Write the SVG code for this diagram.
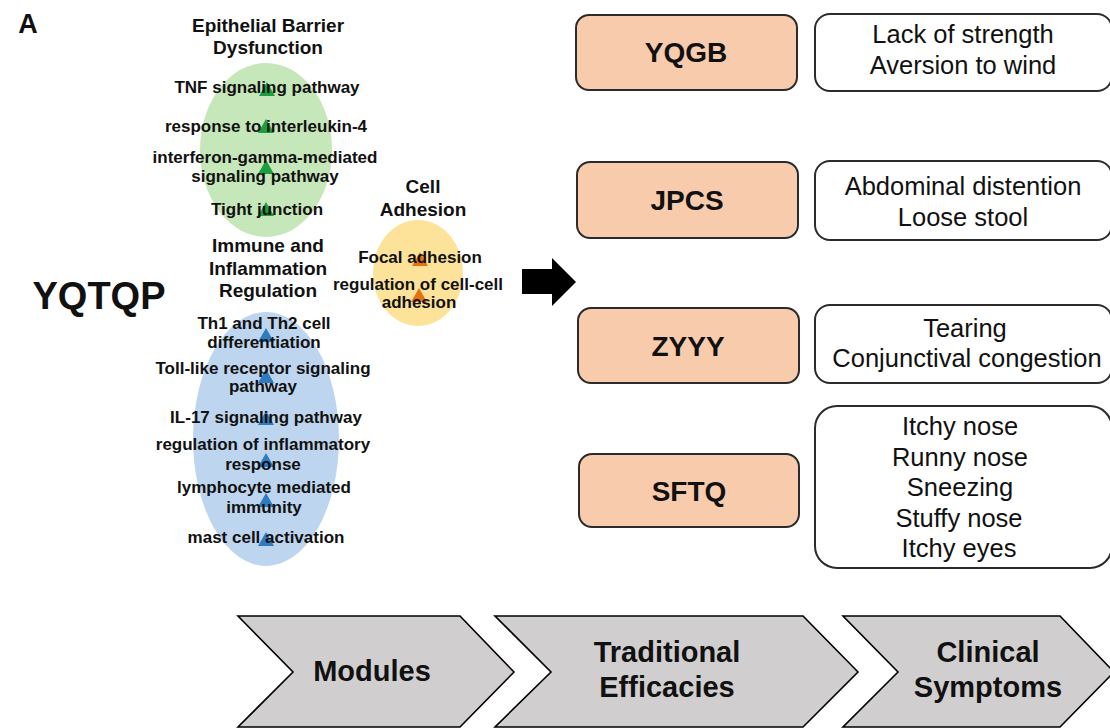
<svg xmlns="http://www.w3.org/2000/svg" xmlns:xlink="http://www.w3.org/1999/xlink" width="1110" height="728" viewBox="0 0 1110 728">
<defs>
<style>
.t{font-family:"Liberation Sans",Arial,sans-serif;fill:#111;text-anchor:middle}
.b{font-weight:bold}
.item{font-size:17px;font-weight:bold}
.ttl{font-size:19px;font-weight:bold}
.mod{font-size:28px;font-weight:bold}
.sym{font-size:25.5px}
.chev{font-size:29px;font-weight:bold}
.eff{fill:#f8cbad;stroke:#2b2b2b;stroke-width:2}
.sbox{fill:#fff;stroke:#2b2b2b;stroke-width:2}
.cv{fill:#d0cece;stroke:#000;stroke-width:1.6;stroke-linejoin:miter}
</style>
<path id="tri" d="M0,-7 L8,7 L-8,7 Z"/>
</defs>
<rect width="1110" height="728" fill="#fff"/>
<text class="t b" x="28" y="33" font-size="27">A</text>
<g id="yqtqp"><text class="t b" x="99" y="309" font-size="38">YQTQP</text></g>

<g id="module-epithelial">
<ellipse cx="266" cy="150" rx="66" ry="87" fill="#c6e7b9"/>
<text class="t ttl" x="268" y="32">Epithelial Barrier</text>
<text class="t ttl" x="268" y="54">Dysfunction</text>
<g fill="#1b9e3e">
<use xlink:href="#tri" x="267" y="89"/>
<use xlink:href="#tri" x="266" y="126"/>
<use xlink:href="#tri" x="266" y="167"/>
<use xlink:href="#tri" x="266" y="209"/>
</g>
<text class="t item" x="267" y="93">TNF signaling pathway</text>
<text class="t item" x="266" y="132">response to interleukin-4</text>
<text class="t item" x="265" y="163">interferon-gamma-mediated</text>
<text class="t item" x="265" y="182">signaling pathway</text>
<text class="t item" x="267" y="215">Tight junction</text>
</g>

<g id="module-adhesion">
<ellipse cx="418" cy="273" rx="45" ry="53" fill="#fde39a"/>
<text class="t ttl" x="423" y="193">Cell</text>
<text class="t ttl" x="423" y="216">Adhesion</text>
<g fill="#e8710f">
<use xlink:href="#tri" x="420" y="259"/>
<use xlink:href="#tri" x="419" y="295"/>
</g>
<text class="t item" x="420" y="263">Focal adhesion</text>
<text class="t item" x="418" y="290">regulation of cell-cell</text>
<text class="t item" x="419" y="308">adhesion</text>
</g>

<g id="module-immune">
<ellipse cx="266" cy="439" rx="73" ry="127" fill="#bdd5ee"/>
<text class="t ttl" x="268" y="252">Immune and</text>
<text class="t ttl" x="268" y="275">Inflammation</text>
<text class="t ttl" x="268" y="297">Regulation</text>
<g fill="#2f7bc0">
<use xlink:href="#tri" x="266" y="335"/>
<use xlink:href="#tri" x="266" y="376"/>
<use xlink:href="#tri" x="266" y="418"/>
<use xlink:href="#tri" x="266" y="460"/>
<use xlink:href="#tri" x="266" y="500"/>
<use xlink:href="#tri" x="266" y="539"/>
</g>
<text class="t item" x="264" y="329">Th1 and Th2 cell</text>
<text class="t item" x="264" y="348">differentiation</text>
<text class="t item" x="263" y="374">Toll-like receptor signaling</text>
<text class="t item" x="263" y="392">pathway</text>
<text class="t item" x="266" y="423">IL-17 signaling pathway</text>
<text class="t item" x="263" y="450">regulation of inflammatory</text>
<text class="t item" x="263" y="470">response</text>
<text class="t item" x="264" y="493">lymphocyte mediated</text>
<text class="t item" x="264" y="513">immunity</text>
<text class="t item" x="266" y="543">mast cell activation</text>
</g>

<g id="connectors">
<polygon points="522,269 552,269 552,258 576,282 552,306 552,294 522,294" fill="#000"/>
</g>

<g id="eff-yqgb"><rect class="eff" x="576" y="15" width="221" height="75" rx="13"/><text class="t mod" x="686" y="62">YQGB</text></g>
<g id="eff-jpcs"><rect class="eff" x="577" y="162" width="221" height="76" rx="13"/><text class="t mod" x="687" y="210">JPCS</text></g>
<g id="eff-zyyy"><rect class="eff" x="578" y="308" width="221" height="75" rx="13"/><text class="t mod" x="688" y="356">ZYYY</text></g>
<g id="eff-sftq"><rect class="eff" x="579" y="454" width="220" height="73" rx="13"/><text class="t mod" x="689" y="501">SFTQ</text></g>

<g id="sym-yqgb"><rect class="sbox" x="815" y="14" width="297" height="77" rx="15"/>
<text class="t sym" x="963" y="43">Lack of strength</text><text class="t sym" x="963" y="74">Aversion to wind</text></g>
<g id="sym-jpcs"><rect class="sbox" x="815" y="161" width="297" height="79" rx="15"/>
<text class="t sym" x="963" y="195">Abdominal distention</text><text class="t sym" x="963" y="226">Loose stool</text></g>
<g id="sym-zyyy"><rect class="sbox" x="815" y="305" width="297" height="78" rx="15"/>
<text class="t sym" x="965" y="337">Tearing</text><text class="t sym" x="967" y="367">Conjunctival congestion</text></g>
<g id="sym-sftq"><rect class="sbox" x="815" y="406" width="297" height="162" rx="22"/>
<text class="t sym" x="960" y="435">Itchy nose</text>
<text class="t sym" x="960" y="466">Runny nose</text>
<text class="t sym" x="960" y="496">Sneezing</text>
<text class="t sym" x="959" y="527">Stuffy nose</text>
<text class="t sym" x="959" y="557">Itchy eyes</text></g>

<g id="chev-modules"><polygon class="cv" points="238,616 460,616 514,672 460,727 238,727 293,672"/>
<text class="t chev" x="372" y="681">Modules</text></g>
<g id="chev-efficacies"><polygon class="cv" points="495,616 803,616 858,672 803,727 495,727 551,672"/>
<text class="t chev" x="667" y="662">Traditional</text><text class="t chev" x="667" y="697">Efficacies</text></g>
<g id="chev-symptoms"><polygon class="cv" points="843,616 1060,616 1114,672 1060,727 843,727 898,672"/>
<text class="t chev" x="988" y="662">Clinical</text><text class="t chev" x="988" y="697">Symptoms</text></g>
</svg>
